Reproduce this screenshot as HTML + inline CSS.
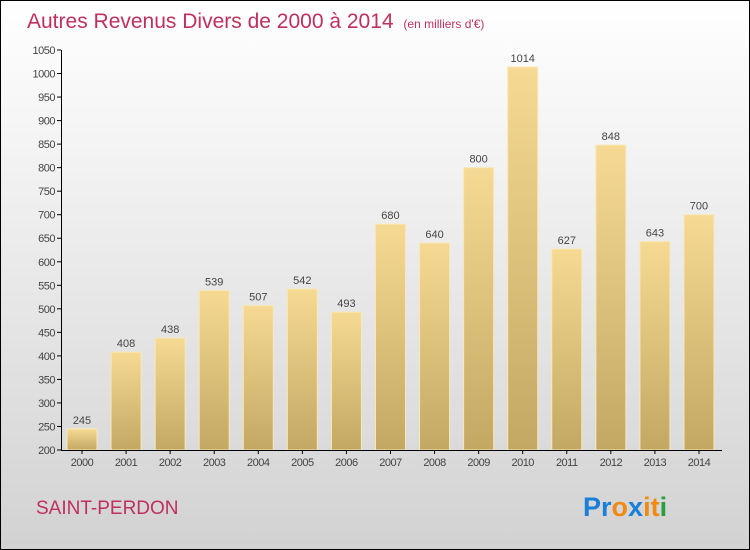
<!DOCTYPE html>
<html><head><meta charset="utf-8"><style>
html,body{margin:0;padding:0}
body{width:750px;height:550px;overflow:hidden}
#wrap{position:relative;width:748px;height:548px;border:1px solid #000;background:linear-gradient(#ffffff,#f2f2f2 30%,#d2d2d2)}
svg{position:absolute;left:0;top:0}
text{font-family:"Liberation Sans",sans-serif}
</style></head><body>
<div id="wrap">
<svg id="c" width="748" height="548">
<defs><linearGradient id="bg" x1="0" y1="0" x2="0" y2="1"><stop offset="0" stop-color="#f6da94"/><stop offset="1" stop-color="#c2a862"/></linearGradient></defs>
<text x="26" y="27" font-size="21" fill="#c0305e">Autres Revenus Divers de 2000 à 2014 <tspan font-size="12" dx="4">(en milliers d'€)</tspan></text>
<text x="35" y="513" font-size="19" fill="#c0305e">SAINT-PERDON</text>
<text x="582" y="515" font-size="27" font-weight="bold"><tspan fill="#1a7fd8">Pr</tspan><tspan fill="#f08a10">o</tspan><tspan fill="#1a7fd8">x</tspan><tspan fill="#f08a10">it</tspan><tspan fill="#28a040">i</tspan></text>
<g id="g"></g>
</svg>
</div>
<script>
const categories=["2000","2001","2002","2003","2004","2005","2006","2007","2008","2009","2010","2011","2012","2013","2014"];
const values=[245,408,438,539,507,542,493,680,640,800,1014,627,848,643,700];
const ticks=[200,250,300,350,400,450,500,550,600,650,700,750,800,850,900,950,1000,1050];
const NS="http://www.w3.org/2000/svg";
const g=document.getElementById('g');
const y0=449,yTop=49,vMin=200,vMax=1050;
function yS(v){return y0-(v-vMin)/(vMax-vMin)*(y0-yTop);}
function xS(i){return 81+i*44.07;}
function mk(t,a,p){const e=document.createElementNS(NS,t);for(const k in a)e.setAttribute(k,a[k]);(p||g).appendChild(e);return e;}
ticks.forEach(t=>{
 const l=mk('line',{x1:56,x2:60,y1:yS(t),y2:yS(t),stroke:'#000'});
 
 
 const tx=mk('text',{x:54,y:yS(t)+4,'font-size':11,'text-anchor':'end',fill:'#444','letter-spacing':'-0.5'});
 tx.textContent=t;
 
 
});
values.forEach((v,i)=>{
 const cx=xS(i);
 const r=mk('rect',{x:cx-15,y:yS(v),width:30,height:y0-yS(v),fill:'url(#bg)',stroke:'#f8e8b8','stroke-width':1});
 
 
 const vt=mk('text',{x:cx,y:yS(v)-5,'font-size':11,'text-anchor':'middle',fill:'#444'});
 vt.textContent=v;
 
 
 const tk=mk('line',{x1:cx,x2:cx,y1:y0,y2:y0+4,stroke:'#000'});
 
 
 const xt=mk('text',{x:cx,y:y0+16,'font-size':11,'text-anchor':'middle',fill:'#444','letter-spacing':'-0.5'});
 xt.textContent=categories[i];
 
 
});
const ya=mk('line',{x1:60.5,x2:60.5,y1:yTop,y2:y0,stroke:'#000'});


const xa=mk('line',{x1:60,x2:721,y1:y0+0.5,y2:y0+0.5,stroke:'#000'});


</script>
</body></html>
